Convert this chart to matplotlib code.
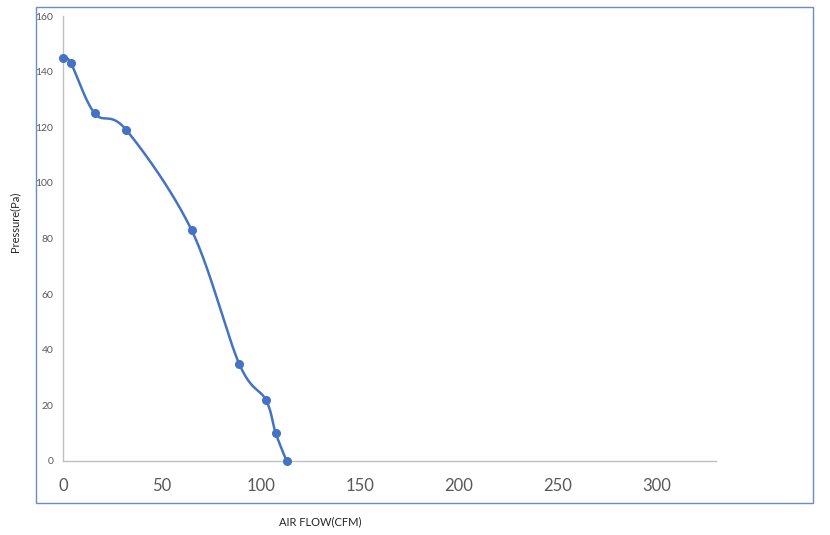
import numpy as np
import matplotlib
matplotlib.use("Agg")
import matplotlib.pyplot as plt
from matplotlib.patches import Rectangle

# fan curve values
air_flow = [0, 4, 16, 32, 65, 89, 102.5, 107.5, 113]
pressure = [145, 143, 125, 119, 83, 35, 22, 10, 0]
x_ticks = [0, 50, 100, 150, 200, 250, 300]
y_ticks = [0, 20, 40, 60, 80, 100, 120, 140, 160]

LINE_BLUE = "#4472C4"
GRID_GREY = "#bfbfbf"
TEXT_GREY = "#595959"


def smooth_curve(x, y, n=40):
    ''' Excel-style smoothed line: cubic Bezier through every point,
    control points from neighbouring points (Catmull-Rom, 1/6 rule) '''
    p = np.column_stack([x, y]).astype(float)
    pts = np.vstack([p[0], p, p[-1]])
    out = []
    t = np.linspace(0, 1, n)[:, None]
    for i in range(1, len(pts) - 2):
        p0, p1, p2, p3 = pts[i - 1], pts[i], pts[i + 1], pts[i + 2]
        c1 = p1 + (p2 - p0) / 6.0
        c2 = p2 - (p3 - p1) / 6.0
        seg = ((1 - t) ** 3) * p1 + 3 * ((1 - t) ** 2) * t * c1 \
            + 3 * (1 - t) * t ** 2 * c2 + t ** 3 * p2
        out.append(seg if i == 1 else seg[1:])
    seg = np.vstack(out)
    return seg[:, 0], seg[:, 1]


plt.rcParams['font.family'] = ['Lato', 'DejaVu Sans']

fig = plt.figure(figsize=(8.3, 5.35), dpi=100)
ax = fig.add_axes([63 / 830, 1 - 461 / 535, (716 - 63) / 830, (461 - 16) / 535])

# outer chart-area frame
fig.patches.append(Rectangle((36 / 830, 1 - 503 / 535), (813 - 36) / 830, (503 - 7) / 535,
                             transform=fig.transFigure, fill=False,
                             edgecolor="#6a8cc8", linewidth=1.0, zorder=0))

sx, sy = smooth_curve(air_flow, pressure)
ax.plot(sx, sy, color=LINE_BLUE, linewidth=1.8, zorder=3, clip_on=False)
ax.plot(air_flow, pressure, linestyle="none", marker="o", markersize=5.5,
        color=LINE_BLUE, zorder=4, clip_on=False)

ax.set_xlim(0, 330)
ax.set_ylim(0, 160)
ax.set_xticks(x_ticks)
ax.set_yticks(y_ticks)

for side in ["top", "right"]:
    ax.spines[side].set_visible(False)
for side in ["left", "bottom"]:
    ax.spines[side].set_color(GRID_GREY)
    ax.spines[side].set_linewidth(1.0)

ax.tick_params(axis="both", length=0)
ax.tick_params(axis="x", labelsize=12, labelcolor=TEXT_GREY, pad=12)
ax.tick_params(axis="y", labelsize=7.5, labelcolor=TEXT_GREY, pad=7)

fig.text(320 / 830, 1 - 522 / 535, "AIR FLOW(CFM)", ha="center", va="center",
         fontsize=8, color="#262626")
fig.text(15 / 830, 1 - 222 / 535, "Pressure(Pa)", ha="center", va="center",
         rotation=90, fontsize=8, color="#262626")

fig.savefig("out.png", dpi=100)
